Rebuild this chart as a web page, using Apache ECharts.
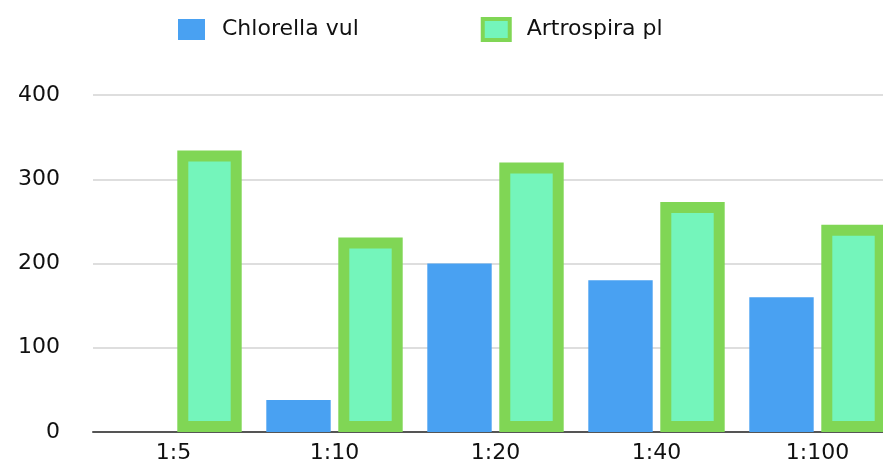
<!DOCTYPE html>
<html>
<head>
<meta charset="utf-8">
<script src="https://cdn.jsdelivr.net/npm/echarts@6/dist/echarts.min.js"></script>
<style>
  html, body { margin: 0; padding: 0; background: #fff; overflow: hidden; }
  /* the original plot runs past the right edge of the picture, so the chart is a bit wider than the window */
  #chart { width: 898px; height: 465px; }
</style>
</head>
<body>
<div id="chart"></div>
<script>
// data
const categories = ["1:5", "1:10", "1:20", "1:40", "1:100"];
const chlorella = [0, 38, 200, 180, 160];
const artrospira = [334, 231, 320, 273, 246];
const yTicks = [0, 100, 200, 300, 400];

const BLUE = "#49a1f2";
const TEAL = "#74f5bb";
const GREEN = "#80d655";
const FONT = "DejaVu Sans";
const TEXT = "#111";

let myChart = echarts.init(document.getElementById("chart"));

// bars drawn as custom shapes so the green border sits inside the bar (like the original)
function barRenderer(side, fill, stroke, lw) {
  return function (params, api) {
    let idx = api.value(0);
    let v = api.value(1);
    let band = api.size([1, 0])[0];
    let base = api.coord([idx, 0]);
    let top = api.coord([idx, v]);
    let w = band * 0.4;
    let cx = base[0] + side * band * 0.2236;
    let h = base[1] - top[1];
    if (!lw) {
      return {
        type: "rect",
        shape: { x: cx - w / 2, y: top[1], width: w, height: h },
        style: { fill: fill },
      };
    }
    let half = lw / 2;
    return {
      type: "rect",
      shape: { x: cx - w / 2 + half, y: top[1] + half, width: w - lw, height: Math.max(h - lw, 0) },
      style: { fill: fill, stroke: stroke, lineWidth: lw },
    };
  };
}

myChart.setOption({
  animation: false,
  textStyle: { fontFamily: FONT },
  legend: {
    left: 178,
    top: 17,
    padding: 0,
    icon: "rect",
    itemWidth: 27,
    itemHeight: 21,
    itemGap: 122,
    textStyle: { fontFamily: FONT, fontSize: 22, color: TEXT, padding: [0, 0, 0, 12] },
    data: [
      { name: "Chlorella vul", itemStyle: { color: BLUE, borderWidth: 0 } },
      { name: "Artrospira pl", itemStyle: { color: TEAL, borderColor: GREEN, borderWidth: 4 } },
    ],
  },
  grid: { left: 93, right: 0, top: 95, bottom: 33 },
  xAxis: {
    type: "category",
    data: categories,
    axisTick: { show: false },
    axisLine: { lineStyle: { color: "#555", width: 2 } },
    axisLabel: { fontFamily: FONT, fontSize: 22, color: TEXT, margin: 10 },
  },
  yAxis: {
    type: "value",
    min: yTicks[0],
    max: yTicks[yTicks.length - 1],
    interval: 100,
    axisLine: { show: false },
    axisTick: { show: false },
    axisLabel: { fontFamily: FONT, fontSize: 22, color: TEXT, margin: 33 },
    splitLine: { lineStyle: { color: "#dedede", width: 2 } },
  },
  series: [
    {
      name: "Chlorella vul",
      type: "custom",
      itemStyle: { color: BLUE },
      encode: { x: 0, y: 1 },
      data: chlorella.map((v, i) => [i, v]),
      renderItem: barRenderer(-1, BLUE),
      z: 3,
    },
    {
      name: "Artrospira pl",
      type: "custom",
      itemStyle: { color: TEAL, borderColor: GREEN, borderWidth: 4 },
      encode: { x: 0, y: 1 },
      data: artrospira.map((v, i) => [i, v]),
      renderItem: barRenderer(1, TEAL, GREEN, 11),
      z: 3,
    },
  ],
});
</script>
</body>
</html>
